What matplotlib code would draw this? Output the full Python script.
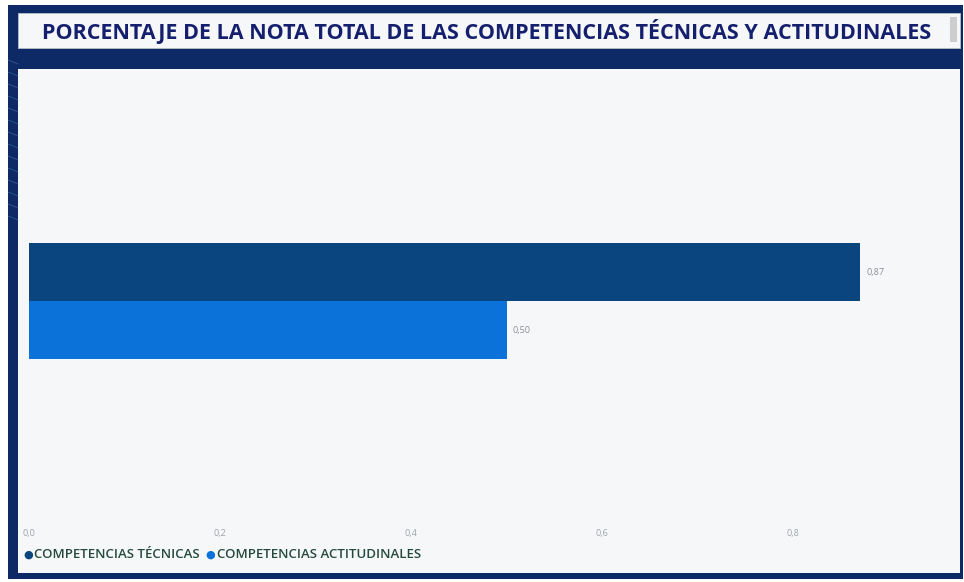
import matplotlib
matplotlib.use("Agg")
import matplotlib.pyplot as plt
from matplotlib.patches import Rectangle
from matplotlib.lines import Line2D
import numpy as np

plt.rcParams['font.family'] = ['Open Sans', 'DejaVu Sans']

title = "PORCENTAJE DE LA NOTA TOTAL DE LAS COMPETENCIAS TÉCNICAS Y ACTITUDINALES"
categories = ["COMPETENCIAS TÉCNICAS", "COMPETENCIAS ACTITUDINALES"]
values = [0.87, 0.50]
value_labels = ["0,87", "0,50"]
colors = ["#0A4580", "#0B72D9"]
xticks = [0.0, 0.2, 0.4, 0.6, 0.8]
xtick_labels = ["0,0", "0,2", "0,4", "0,6", "0,8"]

W, H = 964, 582
fig = plt.figure(figsize=(W / 100, H / 100), dpi=100)
fig.patch.set_facecolor("white")

def px_rect(x0, y0, x1, y1, **kw):
    fig.patches.append(Rectangle((x0 / W, 1 - y1 / H), (x1 - x0) / W, (y1 - y0) / H,
                                 transform=fig.transFigure, figure=fig, **kw))

navy = "#0D2966"
px_rect(8, 5, 963, 579, facecolor=navy, edgecolor="none", zorder=0)
px_rect(18, 13, 960, 48, facecolor="#F6F7F9", edgecolor="#B8BEC8", lw=0.6, zorder=1)
px_rect(950, 17, 957, 42, facecolor="#CDCDCD", edgecolor="none", zorder=2)
px_rect(18, 69, 960, 573, facecolor="#F6F7F9", edgecolor="none", zorder=1)

# decorative faint lines on left frame
for i in range(14):
    y = 60 + i * 12
    fig.lines.append(Line2D([8 / W, 18 / W], [1 - y / H, 1 - (y + 4) / H],
                            transform=fig.transFigure, color="#5B8FC8", lw=0.6, alpha=0.45))

fig.text(487 / W, 1 - 31 / H, title, ha="center", va="center", fontsize=15.5,
         fontweight="bold", color="#14206E", zorder=3)

# axes: left 29px, xlim 0..0.9, vertical 80..522 px
ax_left, ax_right = 29, 29 + 0.9 * 955
ax_top, ax_bot = 80, 522
ax = fig.add_axes([ax_left / W, 1 - ax_bot / H, (ax_right - ax_left) / W, (ax_bot - ax_top) / H])
ax.set_facecolor("none")
ax.set_zorder(5)

ypos = [1, 0]
bars = ax.barh(ypos, values, height=1.0, color=colors, edgecolor="none")
unit = 58 / 1.0
half = (ax_bot - ax_top) / 2 / unit
ax.set_ylim(0.5 - half, 0.5 + half)
ax.set_xlim(0, 0.9)

for y, v, lab in zip(ypos, values, value_labels):
    ax.annotate(lab, (v, y), xytext=(4.5, 0), textcoords="offset points", va="center",
                ha="left", fontsize=6.5, color="#8A8F96")

ax.set_xticks(xticks)
ax.set_xticklabels(xtick_labels, fontsize=6.5, color="#9EA3AA")
ax.tick_params(axis="x", length=0, pad=5)
ax.set_yticks([])
for s in ax.spines.values():
    s.set_visible(False)

# legend
lx = 23
ly = 1 - 555 / H
for cat, c in zip(categories, colors):
    fig.text(lx / W, ly, "●", fontsize=8, color=c, va="center", ha="left")
    t = fig.text((lx + 11) / W, ly, cat, fontsize=9.5, fontweight="semibold",
                 color="#244A3A", va="center", ha="left")
    fig.canvas.draw()
    bb = t.get_window_extent()
    lx = bb.x1 + 6

fig.savefig("out.png", dpi=100)
